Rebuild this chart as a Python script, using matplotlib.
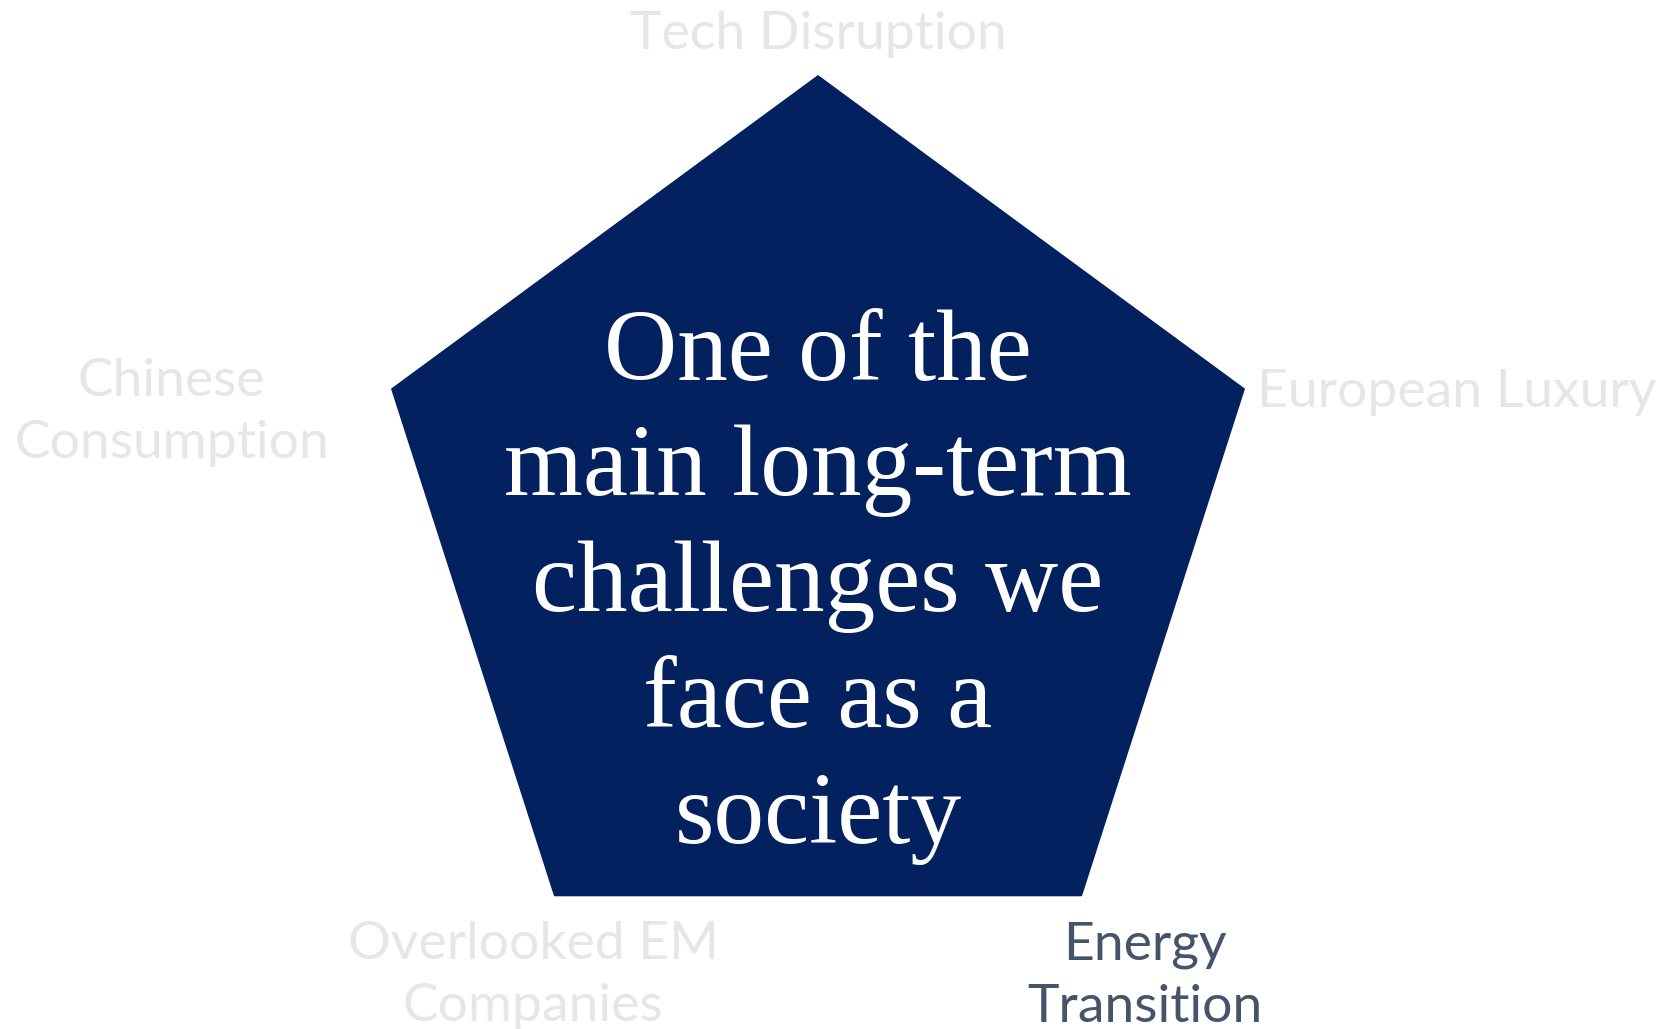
import numpy as np
import matplotlib.pyplot as plt

# categories around the pentagon (clockwise from top)
categories = ['Tech Disruption', 'European Luxury', 'Energy\nTransition',
              'Overlooked EM\nCompanies', 'Chinese\nConsumption']
values = [1, 1, 1, 1, 1]
highlight = 'Energy\nTransition'
center_text = 'One of the\nmain long-term\nchallenges we\nface as a\nsociety'

W, H = 1663, 1029
fig = plt.figure(figsize=(W / 100, H / 100), dpi=100)
Rx, Ry = 449, 454
cx, cy = 818, H - 529
ax = fig.add_axes([(cx - Rx) / W, (cy - Ry) / H, 2 * Rx / W, 2 * Ry / H], projection='polar')
ax.set_aspect('auto')
ax.set_theta_offset(np.pi / 2)
ax.set_theta_direction(-1)

angles = np.linspace(0, 2 * np.pi, len(categories), endpoint=False)
ang = np.append(angles, angles[0])
val = np.append(values, values[0])
ax.fill(ang, val, color='#03215f', lw=0, zorder=2)
ax.set_ylim(0, 1)
ax.set_xticks([])
ax.set_yticks([])
ax.grid(False)
ax.spines['polar'].set_visible(False)
ax.set_facecolor('none')

# label placement (offset in pixels from each vertex)
offsets = [(0, 40, 'center'), (12, -4, 'left'), (63, -80, 'center'),
           (-21, -79, 'center'), (-62, -24, 'right')]
for a, v, lab, (dx, dy, ha) in zip(angles, values, categories, offsets):
    col = '#44546a' if lab == highlight else '#e6e6e6'
    ax.annotate(lab, xy=(a, v), xytext=(dx, dy), textcoords='offset pixels',
                ha=ha, va='center', multialignment='center', fontsize=38.5,
                family='Lato', color=col, linespacing=1.39, annotation_clip=False)

fig.text(cx / W, 1 - 587 / H, center_text, ha='center', va='center',
         fontsize=73, family='Liberation Serif', color='white', linespacing=1.33)

fig.savefig('out.png', dpi=100)
